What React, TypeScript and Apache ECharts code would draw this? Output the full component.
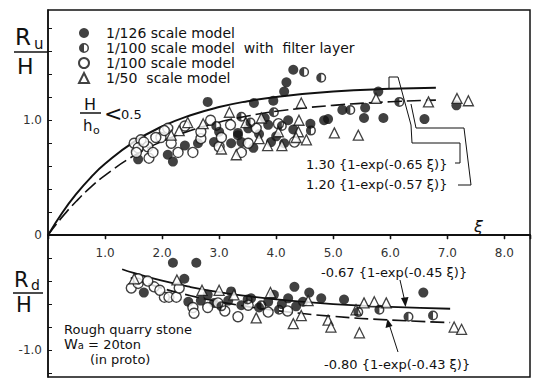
import React, { useEffect, useRef } from "react";
import * as echarts from "echarts";

// ---- data ----
const xiTicks = [1, 2, 3, 4, 5, 6, 7, 8];
const yTickValues = [-1.2, -1.0, -0.8, -0.6, -0.4, -0.2, 0, 0.2, 0.4, 0.6, 0.8, 1.0, 1.2, 1.4, 1.6, 1.8];
const yLabelValues = [-1, 0, 1];

const legendNames = [
  "1/126 scale model",
  "1/100 scale model  with  filter layer",
  "1/100 scale model",
  "1/50  scale model",
];

// run-up fits
const xiUp = [0, 0.25, 0.5, 0.75, 1, 1.5, 2, 2.5, 3, 3.5, 4, 5, 6, 6.8];
const fit130 = [0, 0.195, 0.361, 0.502, 0.621, 0.81, 0.946, 1.044, 1.115, 1.166, 1.203, 1.25, 1.274, 1.284];
const fit120 = [0, 0.159, 0.297, 0.418, 0.521, 0.69, 0.816, 0.911, 0.983, 1.037, 1.078, 1.13, 1.161, 1.175];
// run-down fits
const xiDn067 = [1.3, 1.5, 2, 2.5, 3, 3.5, 4, 5, 6, 7.05];
const fit067 = [-0.297, -0.329, -0.397, -0.452, -0.496, -0.531, -0.559, -0.6, -0.625, -0.641];
const xiDn080 = [1.45, 2, 2.5, 3, 3.5, 4, 5, 6, 7.05];
const fit080 = [-0.37, -0.462, -0.527, -0.58, -0.622, -0.657, -0.707, -0.739, -0.761];

// 1/126 scale model (filled circles)
const filled126 = [
  [2.8, 1.16], [4.3, 1.44], [4.18, 1.33], [4.14, 1.25], [3.95, 1.17], [5.79, 1.25], [5.16, 1.09],
  [5.56, 1.11], [4.91, 1.01], [5.54, 1.02], [5.88, 1.02], [6.6, 1.01], [7.16, 1.13], [4.6, 0.97],
  [1.58, 0.66], [2.1, 0.7], [2.19, 0.64], [2.63, 0.8], [3.33, 0.89], [3.39, 0.81], [3.61, 1.15],
  [3.33, 0.87], [4.21, 1.0], [3.91, 0.81], [4.84, 1.0], [4.14, 0.8], [3.21, 0.8], [3.51, 0.93],
  [3.86, 0.96], [2.91, 0.81], [3.7, 0.88], [4.0, 0.86], [3.8, 1.02], [3.6, 0.76], [4.3, 0.92],
  [2.4, 0.78], [3.0, 0.9],
  [2.19, -0.24], [2.6, -0.24], [2.39, -0.38], [1.68, -0.5], [2.46, -0.58], [2.68, -0.57],
  [3.16, -0.57], [3.56, -0.55], [3.86, -0.58], [2.91, -0.59], [3.39, -0.61], [3.21, -0.49],
  [3.96, -0.52], [4.32, -0.45], [4.58, -0.5], [4.79, -0.55], [5.19, -0.56], [6.58, -0.5],
  [4.21, -0.55], [4.35, -0.62], [4.47, -0.58], [3.7, -0.63], [4.1, -0.6], [2.8, -0.52],
];
// 1/100 scale model with filter layer (half-filled circles)
const half100 = [
  [4.49, 1.42], [4.79, 1.37], [6.16, 1.16], [4.61, 0.91], [3.39, 1.03], [3.96, 1.07], [5.3, 1.09],
  [4.1, 0.95], [3.55, 0.98], [2.95, 0.95],
  [5.81, -0.65], [6.32, -0.71], [6.75, -0.7], [5.44, -0.67], [4.05, -0.65], [3.74, -0.61],
  [3.04, -0.62], [3.5, -0.56],
];
// 1/100 scale model (open circles)
const open100 = [
  [1.51, 0.8], [1.63, 0.83], [1.58, 0.76], [1.75, 0.77], [1.77, 0.67], [1.98, 0.85], [2.1, 0.93],
  [2.28, 0.72], [2.54, 0.72], [2.68, 0.84], [3.0, 0.77], [3.39, 0.72], [3.51, 0.8], [2.16, 0.8],
  [1.84, 0.72], [2.04, 0.91], [1.89, 0.85], [1.68, 0.81], [2.68, 0.9], [3.04, 0.85], [3.65, 0.93],
  [4.32, 0.81], [4.04, 0.97], [2.4, 0.95], [2.85, 1.0], [3.2, 0.96], [1.55, 0.72],
  [1.46, -0.46], [1.58, -0.42], [1.86, -0.45], [2.04, -0.54], [2.12, -0.54], [2.25, -0.54],
  [1.96, -0.48], [2.54, -0.63], [2.56, -0.68], [2.8, -0.63], [3.33, -0.71], [2.98, -0.59],
  [1.58, -0.38], [3.51, -0.61], [3.86, -0.67], [2.3, -0.46], [1.75, -0.4], [3.1, -0.66], [4.2, -0.66],
];
// 1/50 scale model (open triangles)
const tri50 = [
  [2.3, 0.91], [3.04, 0.75], [3.7, 0.84], [2.16, 0.87], [3.18, 1.07], [2.72, 0.97], [2.45, 0.98],
  [3.74, 1.02], [4.4, 1.0], [4.39, 0.9], [4.53, 0.83], [3.85, 0.78], [4.04, 0.9], [3.47, 0.98],
  [4.44, 1.15], [5.75, 1.19], [7.17, 1.19], [7.37, 1.17], [6.67, 1.16], [5.02, 0.89], [5.44, 0.87],
  [4.35, 0.85], [4.1, 0.78], [3.3, 0.7],
  [2.26, -0.39], [1.51, -0.38], [3.0, -0.48], [3.65, -0.72], [3.26, -0.52], [5.54, -0.59],
  [5.72, -0.58], [5.93, -0.59], [4.91, -0.74], [4.96, -0.8], [5.46, -0.85], [7.12, -0.8],
  [7.25, -0.82], [4.3, -0.77], [4.44, -0.7], [5.4, -0.65], [4.56, -0.57], [2.7, -0.48], [3.9, -0.5],
];

const FONT = "DejaVu Sans";
const INK = "#111";
const Y_MIN = -1.235;
const Y_MAX = 1.96;
const GRID_TOP = 10;
const GRID_BOTTOM = 3;
const CHART_H = 380;
const halfSymbol =
  "path://M0,-10A10,10,0,1,1,0,10A10,10,0,1,1,0,-10ZM0,-7A7,7,0,1,0,0,7A7,7,0,1,0,0,-7ZM0,-7A7,7,0,0,0,0,7Z";

const pair = (xs: number[], ys: number[]) => xs.map((x, i) => [x, ys[i]]);

const txt = (x: number, y: number, text: string, size = 12, extra: any = {}) => ({
  type: "text",
  x,
  y,
  style: { text, fontSize: size, fontFamily: FONT, fill: INK, align: "left", verticalAlign: "middle", ...extra },
});
const pl = (points: number[][], w = 1) => ({
  type: "polyline",
  shape: { points },
  style: { stroke: INK, lineWidth: w, fill: null },
});

export default function App() {
  const ref = useRef<HTMLDivElement>(null);
  useEffect(() => {
    if (!ref.current) return;
    const chart = echarts.init(ref.current, null, { renderer: "svg" });
    const plotH = CHART_H - GRID_TOP - GRID_BOTTOM;
    // distance from the bottom edge of the plot up to the value 0 on the y axis
    const zeroOffset = -((0 - Y_MIN) / (Y_MAX - Y_MIN)) * plotH;
    const lineSeries = (name: string, data: number[][], dashed: boolean, w: number) => ({
      name,
      type: "line",
      data,
      smooth: true,
      showSymbol: false,
      silent: true,
      z: 1,
      lineStyle: { color: INK, width: w, type: dashed ? [14, 5] : "solid" },
    });
    chart.setOption({
      animation: false,
      backgroundColor: "#fff",
      grid: {
        left: 48,
        right: 4,
        top: GRID_TOP,
        bottom: GRID_BOTTOM,
        containLabel: false,
        outerBoundsMode: "none",
        show: true,
        borderColor: INK,
        borderWidth: 1.5,
        backgroundColor: "transparent",
      },
      legend: {
        orient: "vertical",
        left: 78,
        top: 26,
        padding: 0,
        itemWidth: 10,
        itemHeight: 10,
        itemGap: 1,
        data: legendNames,
        textStyle: { fontFamily: FONT, fontSize: 14, lineHeight: 14, color: INK, padding: [0, 0, 0, 12] },
      },
      xAxis: [
        {
          type: "value",
          position: "bottom",
          offset: zeroOffset,
          min: 0,
          max: 8.45,
          interval: 1,
          axisLine: { onZero: false, lineStyle: { color: INK, width: 1.8 } },
          axisTick: { show: true, length: 4, lineStyle: { color: INK, width: 1.3 } },
          axisLabel: {
            margin: 12,
            fontFamily: FONT,
            fontSize: 12,
            color: "#333",
            formatter: (v: number) => (xiTicks.indexOf(Math.round(v * 100) / 100) >= 0 ? v.toFixed(1) : ""),
          },
          splitLine: { show: false },
        },
        {
          type: "value",
          position: "top",
          min: 0,
          max: 8.45,
          interval: 1,
          axisLine: { onZero: true, onZeroAxisIndex: 0, lineStyle: { color: INK, width: 1.8 } },
          axisTick: { show: true, inside: true, length: 4, lineStyle: { color: INK, width: 1.3 } },
          axisLabel: { show: false },
          splitLine: { show: false },
        },
      ],
      yAxis: {
        type: "value",
        min: Y_MIN,
        max: Y_MAX,
        axisLine: { show: true, onZero: false, lineStyle: { color: INK, width: 1.5 } },
        axisTick: { show: true, inside: true, length: 4, customValues: yTickValues, lineStyle: { color: INK } },
        axisLabel: {
          customValues: yLabelValues,
          margin: 6,
          fontFamily: FONT,
          fontSize: 12,
          color: "#333",
          formatter: (v: number) => (v === 0 ? "0" : v.toFixed(1)),
        },
        splitLine: { show: false },
      },
      series: [
        lineSeries("fit130", pair(xiUp, fit130), false, 2),
        lineSeries("fit120", pair(xiUp, fit120), true, 1.6),
        lineSeries("fit067", pair(xiDn067, fit067), false, 1.8),
        lineSeries("fit080", pair(xiDn080, fit080), true, 1.6),
        {
          name: legendNames[0],
          type: "scatter",
          data: filled126,
          symbol: "circle",
          symbolSize: 10,
          itemStyle: { color: INK },
          z: 3,
        },
        {
          name: legendNames[1],
          type: "scatter",
          data: half100,
          symbol: halfSymbol,
          symbolSize: 10,
          itemStyle: { color: INK },
          z: 4,
        },
        {
          name: legendNames[2],
          type: "scatter",
          data: open100,
          symbol: "circle",
          symbolSize: 10,
          itemStyle: { color: "#fff", borderColor: INK, borderWidth: 1.4 },
          z: 3,
        },
        {
          name: legendNames[3],
          type: "scatter",
          data: tri50,
          symbol: "triangle",
          symbolSize: 10,
          itemStyle: { color: "#fff", borderColor: INK, borderWidth: 1.3 },
          z: 3,
        },
      ],
      graphic: [
        // R_u / H
        txt(15, 37, "R", 23),
        txt(34, 44, "u", 15),
        { type: "line", shape: { x1: 14, y1: 52, x2: 48, y2: 52 }, style: { stroke: INK, lineWidth: 1.5 } },
        txt(17, 66, "H", 22),
        // R_d / H
        txt(14, 280, "R", 21),
        txt(31, 285, "d", 14),
        { type: "line", shape: { x1: 13, y1: 293, x2: 43, y2: 293 }, style: { stroke: INK, lineWidth: 1.5 } },
        txt(16, 305, "H", 21),
        // H/h0 < 0.5
        txt(84, 104, "H", 16),
        { type: "line", shape: { x1: 80, y1: 113, x2: 101, y2: 113 }, style: { stroke: INK, lineWidth: 1.5 } },
        txt(83, 126, "h", 15),
        txt(93, 130, "o", 11),
        txt(104, 113, "<", 22),
        txt(121, 114, "0.5", 13),
        // xi axis name
        txt(474, 226, "ξ", 16, { fontStyle: "italic" }),
        // upper fit labels and leader lines
        txt(306, 164, "1.30 {1-exp(-0.65 ξ)}", 13),
        txt(306, 184, "1.20 {1-exp(-0.57 ξ)}", 13),
        pl([[389, 89], [389, 77], [398, 77], [411, 125], [412, 143], [460, 143], [460, 163], [455, 163]]),
        pl([[411, 104], [416, 128], [464, 128], [471, 185], [458, 185]]),
        // lower fit labels and arrows
        txt(321, 272, "-0.67 {1-exp(-0.45 ξ)}", 13),
        txt(324, 364, "-0.80 {1-exp(-0.43 ξ)}", 13),
        pl([[400, 280], [405, 302]]),
        { type: "polygon", shape: { points: [[405.5, 307], [401, 298], [408.5, 297]] }, style: { fill: INK } },
        pl([[398, 352], [389, 324]]),
        { type: "polygon", shape: { points: [[387.5, 319], [385.5, 328], [392.5, 326]] }, style: { fill: INK } },
        // stone note
        txt(64, 329, "Rough quarry stone", 13),
        {
          type: "text",
          x: 64,
          y: 344,
          style: {
            text: "{w|W}{s|a} = 20ton",
            fontSize: 13,
            fontFamily: FONT,
            fill: INK,
            verticalAlign: "middle",
            rich: {
              w: { fontSize: 14, fontFamily: FONT, fill: INK },
              s: { fontSize: 10, fontFamily: FONT, fill: INK, padding: [3, 0, 0, 0] },
            },
          },
        },
        txt(90, 359, "(in proto)", 13),
      ],
    });
    return () => chart.dispose();
  }, []);
  return (
    <div
      ref={ref}
      style={{ position: "fixed", left: 0, top: 0, width: 534, height: CHART_H, background: "#fff" }}
    />
  );
}
